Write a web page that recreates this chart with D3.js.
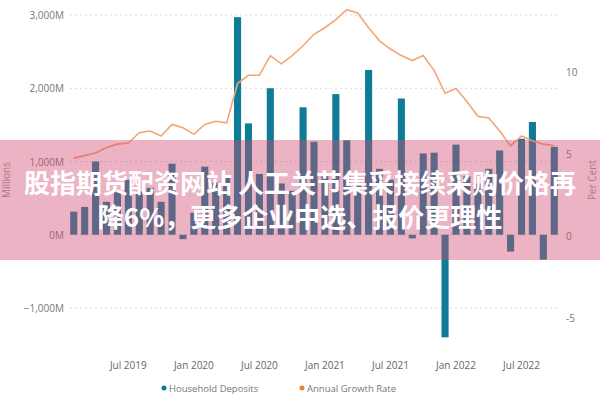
<!DOCTYPE html>
<html><head><meta charset="utf-8">
<script src="https://d3js.org/d3.v7.min.js"></script>
<style>body{margin:0;background:#fff}</style></head>
<body><svg id="c" width="600" height="400"></svg>
<script>
const months = ["2019-02","2019-03","2019-04","2019-05","2019-06","2019-07","2019-08","2019-09","2019-10","2019-11","2019-12","2020-01","2020-02","2020-03","2020-04","2020-05","2020-06","2020-07","2020-08","2020-09","2020-10","2020-11","2020-12","2021-01","2021-02","2021-03","2021-04","2021-05","2021-06","2021-07","2021-08","2021-09","2021-10","2021-11","2021-12","2022-01","2022-02","2022-03","2022-04","2022-05","2022-06","2022-07","2022-08","2022-09","2022-10"];
const deposits = [315,380,1000,450,590,750,590,640,450,970,-60,300,930,710,800,2970,1520,830,2000,700,600,1740,1270,800,1920,1290,700,2250,900,750,1860,-50,1110,1120,-1400,1230,800,700,900,1150,-230,1310,1540,-340,1200];
const growth = [4.75,4.9,5.06,5.4,5.6,5.67,6.3,6.4,6.1,6.8,6.6,6.2,6.8,7.0,6.9,9.3,9.8,9.8,11.0,10.5,11.0,11.6,12.3,12.7,13.2,13.8,13.6,12.7,11.9,11.4,11.0,10.7,11.0,10.1,8.7,9.0,8.2,7.3,7.2,6.4,5.5,6.1,5.8,5.6,5.5];
const leftTicks = [-1000,0,1000,2000,3000];
const rightTicks = [-5,0,5,10];
const tickMonths = ["2019-07","2020-01","2020-07","2021-01","2021-07","2022-01","2022-07"];
const tickLabels = ["Jul 2019","Jan 2020","Jul 2020","Jan 2021","Jul 2021","Jan 2022","Jul 2022"];
const legend = ["Household Deposits","Annual Growth Rate"];
const banner = ["股指期货配资网站 人工关节集采接续采购价格再","降6%，更多企业中选、报价更理性"];

const svg = d3.select("#c");
const font = "'Open Sans', 'DejaVu Sans', sans-serif";
const x = d3.scaleBand().domain(months).range([68,560]).paddingInner(0.35).paddingOuter(0.2);
const yL = d3.scaleLinear().domain([-1000,3000]).range([308,15]);
const yR = d3.scaleLinear().domain([-5,10]).range([318,72]);
const cx = m => x(m) + x.bandwidth()/2;

svg.append("g").selectAll("line").data(leftTicks).join("line")
  .attr("x1",70).attr("x2",560).attr("y1",d=>yL(d)).attr("y2",d=>yL(d))
  .attr("stroke","#d8d8d8").attr("stroke-dasharray","2,3");
svg.append("g").selectAll("text").data(leftTicks).join("text")
  .attr("x",64).attr("y",d=>yL(d)+4).attr("text-anchor","end")
  .attr("font-family",font).attr("font-size",10).attr("fill","#777")
  .text(d=>d===0?"0M":d3.format(",")(d)+"M");
svg.append("g").selectAll("text").data(rightTicks).join("text")
  .attr("x",566).attr("y",d=>yR(d)+4).attr("font-family",font).attr("font-size",10).attr("fill","#777")
  .text(d=>d);
svg.append("text").attr("transform","translate(596,180) rotate(-90)").attr("text-anchor","middle")
  .attr("font-family",font).attr("font-size",10).attr("fill","#999").text("Per Cent");
svg.append("text").attr("transform","translate(10,180) rotate(-90)").attr("text-anchor","middle")
  .attr("font-family",font).attr("font-size",10).attr("fill","#999").text("Millions");

svg.append("g").selectAll("rect").data(months).join("rect")
  .attr("x",m=>x(m)).attr("width",x.bandwidth())
  .attr("y",(m,i)=>yL(Math.max(0,deposits[i])))
  .attr("height",(m,i)=>Math.abs(yL(deposits[i])-yL(0)))
  .attr("fill","#0f7c97");

svg.append("path").datum(growth)
  .attr("d",d3.line().x((d,i)=>cx(months[i])).y(d=>yR(d)))
  .attr("fill","none").attr("stroke","#f4a574").attr("stroke-width",1.6);

svg.append("g").selectAll("text").data(tickMonths).join("text")
  .attr("x",m=>cx(m)).attr("y",369).attr("text-anchor","middle")
  .attr("font-family",font).attr("font-size",10).attr("fill","#666")
  .text((m,i)=>tickLabels[i]);

const lg = svg.append("g").attr("font-family",font).attr("font-size",9.5).attr("fill","#777");
lg.append("circle").attr("cx",164).attr("cy",388).attr("r",2.5).attr("fill","#0f7c97");
lg.append("text").attr("x",169).attr("y",391.5).text(legend[0]);
lg.append("circle").attr("cx",302).attr("cy",388).attr("r",2.5).attr("fill","#f08030");
lg.append("text").attr("x",307).attr("y",391.5).text(legend[1]);

svg.append("rect").attr("x",0).attr("y",140).attr("width",600).attr("height",120)
  .attr("fill","rgba(207,74,112,0.42)");
svg.append("g").selectAll("text").data(banner).join("text")
  .attr("x",(d,i)=>i===0?300:300).attr("y",(d,i)=>193+i*34).attr("text-anchor","middle")
  .attr("font-family","'Noto Sans CJK SC', sans-serif").attr("font-weight","bold")
  .attr("font-size",26).attr("fill","#fff").text(d=>d);
</script></body></html>
